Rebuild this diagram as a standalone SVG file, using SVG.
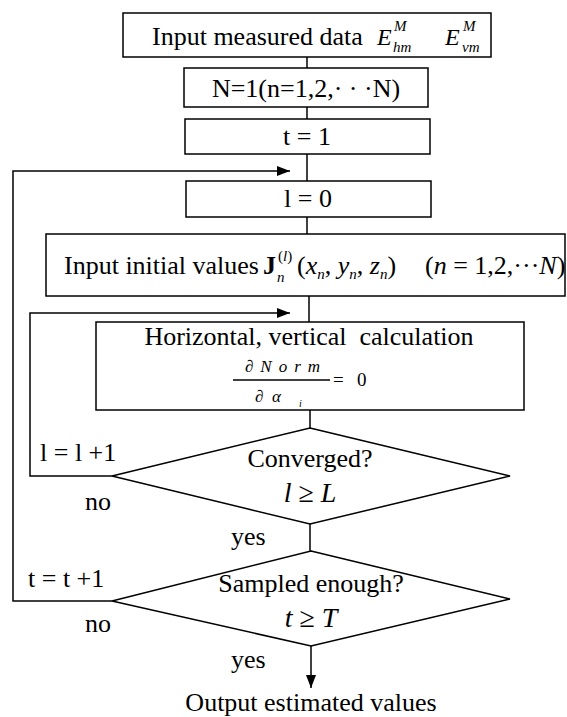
<svg xmlns="http://www.w3.org/2000/svg" width="567" height="717" viewBox="0 0 567 717">
<style>
.box{fill:#fff;stroke:#000;stroke-width:1.5}
.ln{fill:none;stroke:#000;stroke-width:1.5}
text{font-family:"Liberation Serif","Times New Roman",serif;fill:#000;font-size:26px}
.c{text-anchor:middle}
.i{font-style:italic}
.s{font-size:15px}
.f{font-size:17px}
.e{font-size:24px}
.g{font-size:28px}
.q{font-size:19px}
.x{font-size:10px}
</style>
<defs>
<marker id="ah" markerUnits="userSpaceOnUse" markerWidth="13" markerHeight="10" refX="13" refY="5" orient="auto">
<path d="M0,0 L13,5 L0,10 z" fill="#000"/>
</marker>
</defs>
<rect width="567" height="717" fill="#fff"/>
<g id="connectors">
<line class="ln" x1="307" y1="57" x2="307" y2="68"/>
<line class="ln" x1="307" y1="107" x2="307" y2="119"/>
<line class="ln" x1="307" y1="154" x2="307" y2="181"/>
<line class="ln" x1="307" y1="217" x2="307" y2="234"/>
<line class="ln" x1="309" y1="296" x2="309" y2="322"/>
<line class="ln" x1="310" y1="410" x2="310" y2="428"/>
<line class="ln" x1="310" y1="524" x2="310" y2="551"/>
<line class="ln" x1="311" y1="646" x2="311" y2="688" marker-end="url(#ah)"/>
<polyline class="ln" points="112,476 30,476 30,313 290,313" marker-end="url(#ah)"/>
<polyline class="ln" points="112,601 13,601 13,171 290,171" marker-end="url(#ah)"/>
<text x="40" y="461">l = l +1</text>
<text x="85" y="510">no</text>
<text x="231" y="545">yes</text>
<text x="28" y="587">t = t +1</text>
<text x="85" y="632">no</text>
<text x="231" y="668">yes</text>
</g>
<g id="input-data">
<rect class="box" x="123" y="13" width="368" height="44"/>
<text x="152" y="45">Input measured data</text>
<text class="i e" x="377" y="45">E</text>
<text class="i s" x="394" y="31">M</text>
<text class="i s" x="393" y="52">hm</text>
<text class="i e" x="445" y="45">E</text>
<text class="i s" x="463" y="31">M</text>
<text class="i s" x="462" y="52">vm</text>
</g>
<g id="n-init">
<rect class="box" x="184" y="68" width="244" height="39"/>
<text class="c" x="306" y="97">N=1(n=1,2,· · ·N)</text>
</g>
<g id="t-init">
<rect class="box" x="185" y="119" width="245" height="35"/>
<text class="c" x="307" y="145">t = 1</text>
</g>
<g id="l-init">
<rect class="box" x="186" y="181" width="245" height="36"/>
<text class="c" x="308" y="207">l = 0</text>
</g>
<g id="initial-values">
<rect class="box" x="46" y="234" width="519" height="62"/>
<text x="64" y="274">Input initial values</text>
<text x="263" y="274" font-weight="bold">J</text>
<text class="i s" x="277" y="282">n</text>
<text class="s" x="278" y="261">(<tspan class="i">l</tspan>)</text>
<text x="297" y="274">(<tspan class="i">x</tspan><tspan class="i s" dy="5">n</tspan><tspan dy="-5">, </tspan><tspan class="i">y</tspan><tspan class="i s" dy="5">n</tspan><tspan dy="-5">, </tspan><tspan class="i">z</tspan><tspan class="i s" dy="5">n</tspan><tspan dy="-5">)</tspan></text>
<text x="425" y="274">(<tspan class="i">n</tspan> = 1,2,···<tspan class="i">N</tspan>)</text>
</g>
<g id="calculation">
<rect class="box" x="96" y="322" width="428" height="88"/>
<text class="c" x="309" y="345" style="white-space:pre">Horizontal, vertical  calculation</text>
<text class="i f" x="245" y="372" textLength="75" lengthAdjust="spacing">∂ N o r m</text>
<line class="ln" x1="233" y1="380" x2="330" y2="380" stroke-width="1"/>
<text class="q" x="333" y="386">=</text>
<text class="q" x="357" y="386">0</text>
<text class="i f" x="255" y="402">∂</text>
<text class="i f" x="272" y="402">α</text>
<text class="i x" x="299" y="407">i</text>
</g>
<g id="converged">
<polygon class="box" points="310,428 510,476 310,524 112,476"/>
<text class="c" x="310" y="467">Converged?</text>
<text class="c g" x="310" y="502"><tspan class="i">l</tspan> ≥ <tspan class="i">L</tspan></text>
</g>
<g id="sampled">
<polygon class="box" points="311,551 510,599 311,646 112,601"/>
<text class="c" x="311" y="592">Sampled enough?</text>
<text class="c g" x="311" y="627"><tspan class="i">t</tspan> ≥ <tspan class="i">T</tspan></text>
</g>
<g id="output">
<text class="c" x="311" y="711">Output estimated values</text>
</g>
</svg>
